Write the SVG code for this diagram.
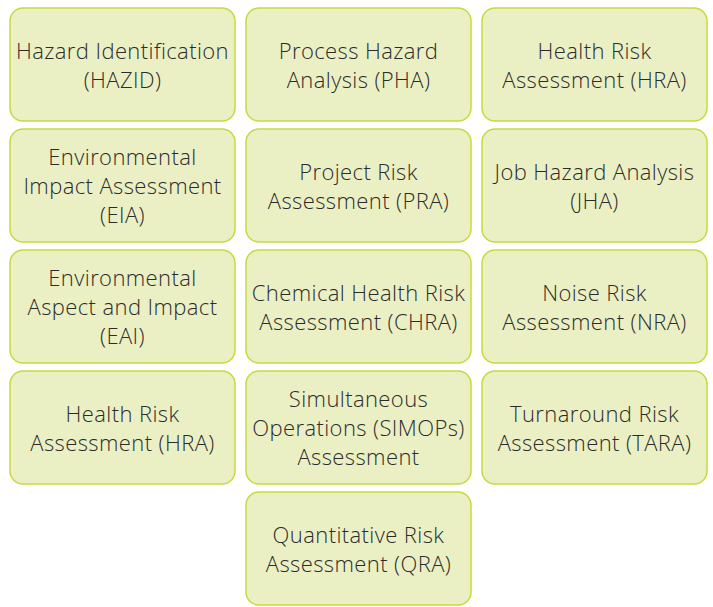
<svg xmlns="http://www.w3.org/2000/svg" width="713" height="607" viewBox="0 0 713 607">
<style>
.b{fill:#EBF0C4;stroke:#C6DA3E;stroke-width:1.5}
.t{font-family:"Open Sans","Lato",sans-serif;font-weight:300;font-size:22px;letter-spacing:0.4px;fill:#2b2b2b;text-anchor:middle}
</style>
<rect width="713" height="607" fill="#ffffff"/>
<g id="connectors"/>
<g id="hazid"><rect class="b" x="10" y="8" width="225" height="113" rx="13"/><text class="t" x="122.5" y="58.5">Hazard Identification</text><text class="t" x="122.5" y="87.5">(HAZID)</text></g>
<g id="pha"><rect class="b" x="246" y="8" width="225" height="113" rx="13"/><text class="t" x="358.5" y="58.5">Process Hazard</text><text class="t" x="358.5" y="87.5">Analysis (PHA)</text></g>
<g id="hra1"><rect class="b" x="482" y="8" width="225" height="113" rx="13"/><text class="t" x="594.5" y="58.5">Health Risk</text><text class="t" x="594.5" y="87.5">Assessment (HRA)</text></g>
<g id="eia"><rect class="b" x="10" y="129" width="225" height="113" rx="13"/><text class="t" x="122.5" y="165">Environmental</text><text class="t" x="122.5" y="194">Impact Assessment</text><text class="t" x="122.5" y="223">(EIA)</text></g>
<g id="pra"><rect class="b" x="246" y="129" width="225" height="113" rx="13"/><text class="t" x="358.5" y="179.5">Project Risk</text><text class="t" x="358.5" y="208.5">Assessment (PRA)</text></g>
<g id="jha"><rect class="b" x="482" y="129" width="225" height="113" rx="13"/><text class="t" x="594.5" y="179.5">Job Hazard Analysis</text><text class="t" x="594.5" y="208.5">(JHA)</text></g>
<g id="eai"><rect class="b" x="10" y="250" width="225" height="113" rx="13"/><text class="t" x="122.5" y="286">Environmental</text><text class="t" x="122.5" y="315">Aspect and Impact</text><text class="t" x="122.5" y="344">(EAI)</text></g>
<g id="chra"><rect class="b" x="246" y="250" width="225" height="113" rx="13"/><text class="t" x="358.5" y="300.5">Chemical Health Risk</text><text class="t" x="358.5" y="329.5">Assessment (CHRA)</text></g>
<g id="nra"><rect class="b" x="482" y="250" width="225" height="113" rx="13"/><text class="t" x="594.5" y="300.5">Noise Risk</text><text class="t" x="594.5" y="329.5">Assessment (NRA)</text></g>
<g id="hra2"><rect class="b" x="10" y="371" width="225" height="113" rx="13"/><text class="t" x="122.5" y="421.5">Health Risk</text><text class="t" x="122.5" y="450.5">Assessment (HRA)</text></g>
<g id="simops"><rect class="b" x="246" y="371" width="225" height="113" rx="13"/><text class="t" x="358.5" y="407">Simultaneous</text><text class="t" x="358.5" y="436">Operations (SIMOPs)</text><text class="t" x="358.5" y="465">Assessment</text></g>
<g id="tara"><rect class="b" x="482" y="371" width="225" height="113" rx="13"/><text class="t" x="594.5" y="421.5">Turnaround Risk</text><text class="t" x="594.5" y="450.5">Assessment (TARA)</text></g>
<g id="qra"><rect class="b" x="246" y="492" width="225" height="113" rx="13"/><text class="t" x="358.5" y="542.5">Quantitative Risk</text><text class="t" x="358.5" y="571.5">Assessment (QRA)</text></g>
</svg>
